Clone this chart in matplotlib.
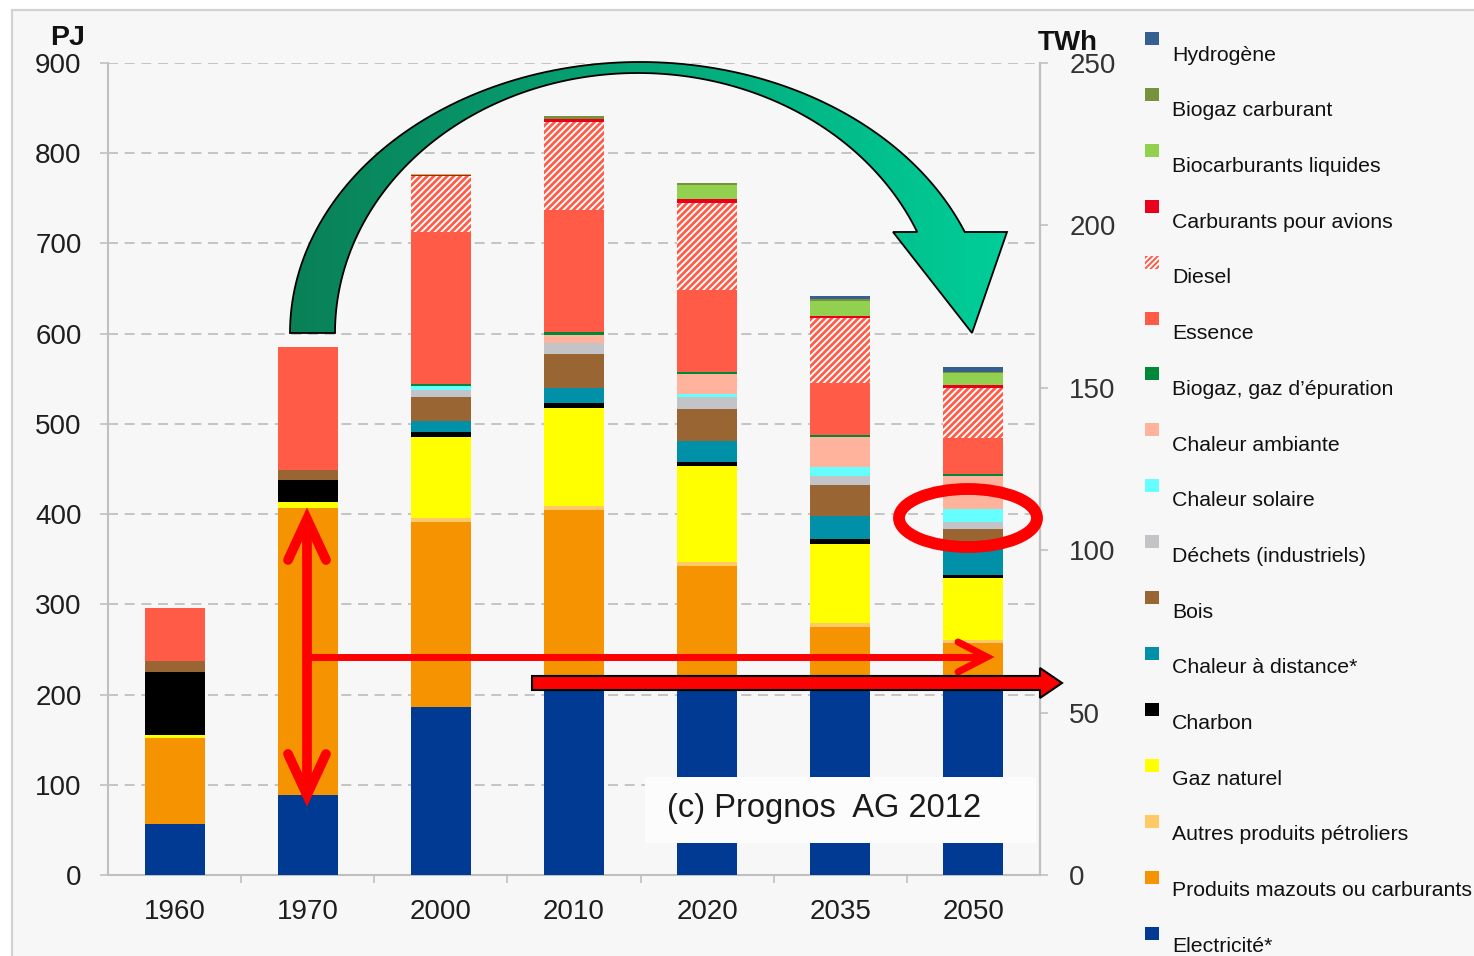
import matplotlib
matplotlib.use('Agg')
import matplotlib.pyplot as plt
import numpy as np
from matplotlib.patches import Rectangle, Polygon, Ellipse

plt.rcParams['font.family'] = ['Liberation Sans', 'DejaVu Sans']
plt.rcParams['hatch.linewidth'] = 1.4

# ---------------- data (PJ) ----------------
years = ['1960', '1970', '2000', '2010', '2020', '2035', '2050']

electricite      = [57, 89, 186, 212, 215, 218, 220]
mazouts          = [95, 318, 205, 193, 127, 57, 37]
autres_petrol    = [0, 0, 5, 4, 5, 4, 4]
gaz_naturel      = [3, 6, 90, 109, 106, 88, 68]
charbon          = [70, 25, 5, 5, 5, 5, 3.5]
chaleur_distance = [0, 0, 12, 17, 23, 26, 34]
bois             = [12, 11, 27, 37, 36, 34, 17]
dechets          = [0, 0, 8, 13, 13, 10, 8]
chaleur_solaire  = [0, 0, 4, 0, 3, 10, 14]
chaleur_ambiante = [0, 0, 0, 9, 22, 34, 37]
biogaz_epuration = [0, 0, 2, 2.5, 2, 2, 2]
essence          = [59, 136, 169, 136, 91, 57, 40]
diesel           = [0, 0, 62, 97, 97, 72, 55]
carb_avions      = [0, 0, 1, 3.5, 4, 2.5, 3.5]
biocarb_liquides = [0, 0, 1.5, 0, 16, 17, 13]
biogaz_carburant = [0, 0, 0, 3, 2, 2, 2]
hydrogene        = [0, 0, 0, 0, 0, 3.5, 5.5]

series = [  # bottom -> top
    ('Electricité*', electricite, '#003a92', None),
    ('Produits mazouts ou carburants', mazouts, '#f59300', None),
    ('Autres produits pétroliers', autres_petrol, '#ffc966', None),
    ('Gaz naturel', gaz_naturel, '#ffff00', None),
    ('Charbon', charbon, '#000000', None),
    ('Chaleur à distance*', chaleur_distance, '#0090a8', None),
    ('Bois', bois, '#996633', None),
    ('Déchets (industriels)', dechets, '#c3c4c8', None),
    ('Chaleur solaire', chaleur_solaire, '#66ffff', None),
    ('Chaleur ambiante', chaleur_ambiante, '#ffb29c', None),
    ('Biogaz, gaz d\u2019épuration', biogaz_epuration, '#00883a', None),
    ('Essence', essence, '#ff5b46', None),
    ('Diesel', diesel, '#ff5b46', '/////'),
    ('Carburants pour avions', carb_avions, '#e8001c', None),
    ('Biocarburants liquides', biocarb_liquides, '#92d050', None),
    ('Biogaz carburant', biogaz_carburant, '#76923c', None),
    ('Hydrogène', hydrogene, '#366092', None),
]

W, H = 1474, 956
fig = plt.figure(figsize=(W / 100, H / 100), dpi=100)
fig.patch.set_facecolor('white')

# background panel
bg = fig.add_axes([0, 0, 1, 1], zorder=0)
bg.set_xlim(0, W); bg.set_ylim(H, 0); bg.axis('off')
bg.add_patch(Rectangle((12, 10), W, H, facecolor='#f7f7f7', edgecolor='#d2d2d2', lw=1.6))

# main axes
ax = fig.add_axes([108 / W, (H - 875) / H, (1040 - 108) / W, (875 - 63) / H], zorder=2)
ax.patch.set_visible(False)
x = np.arange(len(years))
bottom = np.zeros(len(years))
for name, vals, color, hatch in series:
    v = np.array(vals, dtype=float)
    ax.bar(x, v, width=0.45, bottom=bottom, color=color,
           edgecolor='white' if hatch else color, linewidth=0, hatch=hatch, zorder=3)
    bottom += v

ax.set_xlim(-0.5, 6.5)
ax.set_ylim(0, 900)
ax.set_yticks(np.arange(0, 901, 100))
ax.yaxis.grid(True, linestyle=(0, (6, 4)), color='#bcbcbc', linewidth=1.2)
ax.set_axisbelow(True)
spc = '#c0c0c0'
ax.spines['top'].set_visible(False)
for s in ['left', 'bottom', 'right']:
    ax.spines[s].set_color(spc)
    ax.spines[s].set_linewidth(1.5)
ax.tick_params(axis='y', direction='out', length=6, width=1.2, color=spc, pad=13,
               labelsize=20, labelcolor='#1e1e1e')
ax.set_xticks(x)
ax.set_xticklabels(years)
ax.set_xticks(np.arange(0.5, 6.0, 1.0), minor=True)
ax.tick_params(axis='x', which='major', length=0, pad=17, labelsize=20, labelcolor='#1e1e1e')
ax.tick_params(axis='x', which='minor', length=6, width=1.2, color=spc)

ax2 = ax.twinx()
ax2.set_zorder(3)
ax2.patch.set_visible(False)
ax2.set_ylim(0, 250)
ax2.set_yticks(np.arange(0, 251, 50))
for s in ['top', 'left', 'bottom']:
    ax2.spines[s].set_visible(False)
ax2.spines['right'].set_color(spc)
ax2.spines['right'].set_linewidth(1.5)
ax2.tick_params(axis='y', direction='out', length=6, width=1.2, color=spc, pad=15,
                labelsize=20, labelcolor='#333333')

# ---------------- overlay (pixel coords) ----------------
ov = fig.add_axes([0, 0, 1, 1], zorder=5)
ov.patch.set_visible(False)

# curved green arrow
to_end = np.arcsin((333 - 232) / 271)
t_out = np.linspace(np.pi, to_end, 120)
outer = np.column_stack([640 + 350 * np.cos(t_out), 333 - 271 * np.sin(t_out)])
ti_end = np.arcsin((333 - 232) / 260)
t_in = np.linspace(ti_end, np.pi, 120)
inner = np.column_stack([638 + 303 * np.cos(t_in), 333 - 260 * np.sin(t_in)])
head = np.array([[1007, 232], [972, 333], [893, 232]])
pts = np.vstack([outer, head, inner])
arrow_poly = Polygon(pts, closed=True, facecolor='none', edgecolor='black', lw=1.3, zorder=6)
ov.add_patch(arrow_poly)
c0 = np.array([0.04, 0.50, 0.34])
c1 = np.array([0.00, 0.81, 0.60])
tt = np.linspace(0, 1, 256)[None, :, None]
grad = c0 + (c1 - c0) * tt
im = ov.imshow(grad, extent=(285, 1012, 340, 55), aspect='auto', zorder=5, interpolation='bilinear')
clip = Polygon(pts, closed=True, transform=ov.transData, facecolor='none', edgecolor='none')
ov.add_patch(clip)
im.set_clip_path(clip)

red = '#ff0000'
# vertical double arrow
ov.plot([307, 307], [521, 793], color=red, lw=7, solid_capstyle='butt', zorder=7)
ov.plot([288, 307, 326], [560, 519, 560], color=red, lw=7, solid_capstyle='round',
        solid_joinstyle='miter', zorder=7)
ov.plot([288, 307, 326], [754, 795, 754], color=red, lw=7, solid_capstyle='round',
        solid_joinstyle='miter', zorder=7)
# horizontal arrow
ov.plot([307, 985], [657, 657], color=red, lw=5, solid_capstyle='butt', zorder=7)
ov.plot([958, 987, 958], [642, 657, 672], color=red, lw=5, solid_capstyle='round',
        solid_joinstyle='miter', zorder=7)
# block arrow
ov.add_patch(Polygon([(532, 676), (1040, 676), (1040, 668), (1062, 683), (1040, 698),
                      (1040, 690), (532, 690)], closed=True, facecolor=red,
                     edgecolor='black', lw=1.5, zorder=7))
# ellipse
ov.add_patch(Ellipse((968, 518), 138, 58, fill=False, edgecolor=red, lw=8.5, zorder=7))

# copyright box
ov.add_patch(Rectangle((645, 777), 391, 66, facecolor='#fcfcfc', edgecolor='none', zorder=6))
ov.text(824, 808, '(c) Prognos  AG 2012', fontsize=23.5, ha='center', va='center',
        color='#1a1a1a', zorder=8)

# axis unit labels
ov.text(68, 45, 'PJ', fontsize=20.5, fontweight='bold', ha='center', va='baseline', color='#111111')
ov.text(1068, 50, 'TWh', fontsize=20, fontweight='bold', ha='center', va='baseline', color='#111111')

# legend (top -> bottom)
for i, (name, vals, color, hatch) in enumerate(series[::-1]):
    sq_top = 31.7 + i * 55.96
    base = 60.7 + i * 55.69
    ov.add_patch(Rectangle((1145, sq_top), 14, 13, facecolor=color,
                           edgecolor='white' if hatch else color, lw=0,
                           hatch='//////' if hatch else None, zorder=7))
    ov.text(1172, base, name, fontsize=15.3, ha='left', va='baseline', color='#111111', zorder=7)

ov.set_xlim(0, W)
ov.set_ylim(H, 0)
ov.axis('off')

fig.savefig('out.png', dpi=100, facecolor=fig.get_facecolor())
